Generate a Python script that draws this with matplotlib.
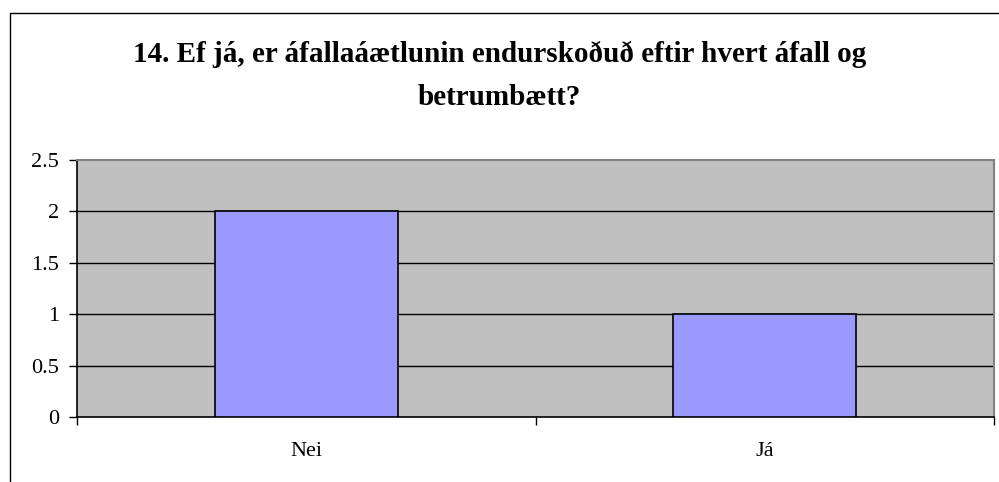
import matplotlib.pyplot as plt
import matplotlib.patches as patches
import numpy as np

categories = ['Nei', 'Já']
counts = [2, 1]
y_ticks = [0, 0.5, 1, 1.5, 2, 2.5]
title = '14. Ef já, er áfallaáætlunin endurskoðuð eftir hvert áfall og\nbetrumbætt?'

plt.rcParams['font.family'] = ['Liberation Serif', 'DejaVu Serif']

fig = plt.figure(figsize=(9.99, 4.82), dpi=100)
ax = fig.add_axes([77 / 999, 65 / 482, 917 / 999, 257 / 482])

# outer chart frame (runs off the right and bottom edges)
frame = patches.Rectangle((10 / 999, -0.1), 1.2, (482 - 13) / 482 + 0.1,
                          transform=fig.transFigure, fill=False,
                          edgecolor='black', linewidth=1, clip_on=False)
fig.patches.append(frame)

x = np.arange(len(categories))
ax.set_facecolor('#C0C0C0')
ax.bar(x, counts, width=0.4, color='#9999FF', edgecolor='black', linewidth=1.2, zorder=3)

ax.set_xlim(-0.5, len(categories) - 0.5)
ax.set_ylim(0, 2.5)
ax.set_yticks(y_ticks)
ax.set_yticklabels(['0', '0.5', '1', '1.5', '2', '2.5'])
for yv in y_ticks[1:-1]:
    ax.axhline(yv, color='black', linewidth=1, zorder=1)

ax.set_xticks(np.arange(-0.5, len(categories)), labels=[])
ax.set_xticks(x, labels=categories, minor=True)
ax.tick_params(axis='x', which='major', direction='out', length=6, width=1)
ax.tick_params(axis='x', which='minor', length=0, pad=18, labelsize=16)
ax.tick_params(axis='y', direction='out', length=6, width=1, pad=7, labelsize=16)

for side in ['top', 'right']:
    ax.spines[side].set_color('#808080')
    ax.spines[side].set_linewidth(1.5)
ax.spines['left'].set_color('black')
ax.spines['bottom'].set_color('black')
ax.spines['left'].set_linewidth(1.2)
ax.spines['bottom'].set_linewidth(1.2)

fig.text(0.5, 406 / 482, title, ha='center', va='center', fontsize=21,
         fontweight='bold', linespacing=1.8)

fig.savefig('out.png', dpi=100)
